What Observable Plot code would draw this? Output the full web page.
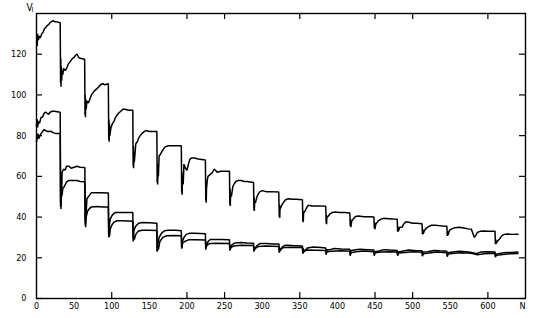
<!DOCTYPE html>
<html><head><meta charset="utf-8">
<script src="https://cdn.jsdelivr.net/npm/d3@7"></script>
<script src="https://cdn.jsdelivr.net/npm/@observablehq/plot@0.6"></script>
<style>body{margin:0;background:#fff} svg{display:block}</style>
</head><body><div id="chart"></div>
<script>
const xTicks = [0,50,100,150,200,250,300,350,400,450,500,550,600];
const xTickMarks = [100,200,250,350,450,500,600];
const yTicks = [0,20,40,60,80,100,120];

const topSeries = [
[0,126],[1,124],[1.5,130],[2.5,127],[4,129],[5,128],[7,130],[9,131],[10.5,132.5],[12,133],[14,134],[16,134.5],[18,135.5],[20,136],[22,136.5],[24,136],[26,136],[31.5,135.5],
[32,106],[32.3,118],[32.6,104],[33,114],[33.4,107],[34,112],[35,110],[36,113],[38,112],[40,113],[42,115],[44,116],[46,117],[48,118],[50,118.5],[52,119.5],[54,120],[56,118.5],[58,118],[64,117.5],
[64.5,90],[64.8,100],[65.1,89],[65.5,98],[66,93],[67,97],[69,96],[71,98],[73,100],[75,101],[77,102],[80,103],[83,104],[85,105],[88,105.5],[91,105],[95.5,105.5],
[96,78],[96.3,88],[96.6,77],[97,86],[97.5,80],[99,84],[101,86],[103,87],[105,89],[107,90],[109,91],[112,92],[115,93],[118,93],[122,92.5],[128,92.5],
[128.5,65],[128.8,75],[129.1,64],[129.5,72],[130,67],[132,76],[134,77],[136,79],[138,80],[140,81],[143,82],[146,82.5],[150,82],[160,82],
[160.4,57],[160.7,66],[161,56],[161.5,64],[162,60],[163,70],[165,71],[168,73],[171,74.5],[175,75],[180,75],[192.5,75],
[193,52],[193.3,62],[193.6,51],[194,60],[195,56],[196,66],[198,64],[200,63],[202,66],[204,68.5],[206,69],[210,69],[215,68.5],[224.5,68],
[225,48],[225.3,56],[225.6,47],[226,54],[227,58],[228,60],[231,61],[234,62],[236,63.5],[238,63],[240,62],[245,62.5],[256.5,62.5],
[257,46],[257.3,54],[257.6,45.5],[258,52],[259,50],[261,55],[263,56.5],[265,57.5],[268,58],[272,58],[276,57.5],[280,57.5],[288.5,57],
[289,43.5],[289.3,50],[289.6,43],[290,48],[291,47],[293,50],[295,51.5],[297,52.5],[300,53],[305,52.5],[310,52.5],[322,52.3],
[322.7,40],[323,46],[323.3,39.5],[323.7,44],[325,45],[327,46.5],[329,47.5],[331,48.5],[335,49],[340,48.8],[345,48.8],[353.5,48.5],
[354,38],[354.3,43],[354.6,37.5],[355,42],[357,43],[359,44.5],[361,45.8],[365,45.5],[370,45.5],[375,45.5],[384.5,45.3],
[385,37],[385.3,41],[385.6,36.5],[386,40],[388,40.5],[390,41.5],[393,42.3],[397,42.5],[403,42.3],[410,42.2],[416.5,42],
[417,35.5],[417.4,39],[417.8,35],[419,38],[421,39],[424,40.3],[428,40.5],[435,40.2],[442,40.2],[448.5,40],
[449,34.5],[449.4,37.5],[449.8,34],[451,36.5],[454,38],[458,39],[462,39.4],[468,39.2],[474,39],[479.5,38.9],
[480,32.8],[480.5,35.5],[481,33],[483,35],[486,35],[488,36.5],[491,37.7],[495,37.5],[500,37],[505,37],[512.5,36.7],
[513,31.5],[513.5,34],[514,31.8],[516,33.5],[518,34.5],[521,35.3],[525,36],[530,36],[535,35.8],[540,35.6],[545.5,35.5],
[546,30.7],[546.5,33],[547,31],[549,33.5],[552,34.2],[556,34.8],[562,35],[568,34.6],[574,34.2],[578,34],[580,32],[582,30],[584,31],[586,32.5],[590,33],[595,33.2],[600,33],[609.5,33],
[610,26.7],[610.5,29],[611,27],[613,28.3],[616,29.5],[619,31],[622,31.5],[626,31.7],[632,31.5],[640,31.6]
];

const midSeries = [
[0,85],[1,88],[1.5,84],[2.5,87],[4,86],[6,89],[8,89],[10,91],[12,91.5],[14,91],[16,90.5],[18,91.5],[21,92],[24,92],[31.5,91.5],
[32,47],[32.3,60],[32.6,46],[33,58],[33.5,52],[34,62],[36,63.5],[38,63],[40,65],[43,65],[46,64],[50,64.5],[54,65],[58,64.5],[64.3,64.3],
[64.7,38],[65,46],[65.3,37],[65.7,45],[66,42],[67,49],[69,50],[71,51],[73,52],[78,52],[85,52],[95.5,51.8],
[96,31],[96.3,37],[96.6,30.5],[97,36],[98,39],[100,40.5],[102,41.5],[105,42.3],[110,42.3],[120,42.3],[128,42.2],
[128.5,29.5],[128.8,34],[129.1,29],[129.5,33],[131,35],[133,36],[136,37],[140,37.3],[150,37.2],[160,37],
[160.4,23.6],[160.7,28],[161,23.5],[161.5,27],[163,30],[166,32],[170,33.3],[175,33.5],[185,33.5],[192.5,33.3],
[193,25],[193.3,29],[193.6,25],[194,28],[196,30],[199,31.5],[203,32],[210,32],[218,31.9],[224.5,31.8],
[225,25],[225.3,27.5],[226,25.5],[228,28],[231,29],[236,29],[245,29],[256.5,28.9],
[257,24],[257.5,26],[258,24.5],[260,26.5],[264,27.3],[272,27.5],[280,27.3],[288.5,27.2],
[289,23.5],[289.5,25.5],[290,24],[293,26],[297,27],[305,27],[315,26.8],[322.3,26.8],
[322.7,23],[323.2,25],[324,23.5],[327,25.5],[331,26.2],[340,26],[353.5,25.8],
[354,22.5],[354.5,24.5],[356,23],[360,24.8],[368,25.3],[378,25],[384.5,24.8],
[385,22],[386,24],[390,24],[396,24.6],[405,24.3],[416.5,24.2],
[417,21.5],[418,23.5],[422,23.8],[430,24.2],[440,24],[448.5,23.8],
[449,21.5],[450,23],[455,23.3],[462,24],[470,23.8],[479.5,23.6],
[480,21.5],[481,23],[486,23.2],[495,23.8],[505,23.5],[512.5,23.4],
[513,21.3],[514,22.8],[520,23],[528,23.6],[536,23.4],[545.5,23.2],
[546,21],[547,22.5],[553,22.8],[562,23.2],[572,23],[580,22.5],[585,22],[590,22.8],[600,23],[609.5,22.8],
[610,20.8],[611,21.8],[617,22.2],[625,22.6],[632,22.6],[640,22.8]
];

const lowSeries = [
[0,77],[1,79],[2,81],[3,78.5],[4.5,80],[6,81],[8,82],[10,83],[12,82.5],[15,82],[19,82.2],[22,81.5],[26,81],[31.5,81],
[32,45],[32.3,52],[32.6,44],[33,50],[34,51],[35,54],[37,55],[40,57.3],[43,58],[47,58],[54,58],[58,57.5],[64.3,57.3],
[64.7,36],[65,41],[65.3,35],[66,40],[68,43],[70,44],[73,45],[80,45.2],[88,45],[95.5,45],
[96,30],[96.3,33],[97,30.5],[98,34],[100,36],[103,37.5],[107,38.2],[115,38.2],[128,38],
[128.5,28],[129,31],[130,29],[132,31.5],[135,33],[140,33.5],[150,33.5],[160,33.4],
[160.4,23],[161,26],[162,24],[164,28],[168,30],[173,30.8],[182,31],[192.5,30.8],
[193,24.5],[194,27],[197,28],[202,28.8],[212,28.8],[224.5,28.7],
[225,24],[226,26],[230,27],[240,27.1],[256.5,27],
[257,23.5],[258,25],[262,25.8],[272,26.1],[288.5,26],
[289,23],[290,24.5],[295,25.5],[305,25.8],[322.3,25.6],
[322.7,22.5],[324,24],[328,25],[340,25.2],[353.5,25],
[354,22],[355,23.5],[360,23.8],[372,23.7],[384.5,23.6],
[385,21.5],[386,23],[392,23.2],[405,23.4],[416.5,23.2],
[417,21],[418,22.5],[425,23],[435,23.3],[448.5,23],
[449,21],[450,22.5],[458,22.8],[470,23],[479.5,22.8],
[480,21],[481,22.3],[490,22.6],[500,23],[512.5,22.7],
[513,20.8],[514,22],[522,22.3],[532,22.8],[545.5,22.5],
[546,20.5],[547,21.8],[555,22.2],[565,22.5],[578,22.2],[586,21.5],[595,22],[609.5,22.2],
[610,20.3],[611,21.3],[620,21.6],[630,22],[640,22.1]
];

const W = 548, H = 318, mL = 36, mR = 23, mT = 13, mB = 20;
const pw = W - mL - mR, ph = H - mT - mB;
const tickLen = 6;
const font = "'Liberation Sans Narrow', 'DejaVu Sans Condensed', 'Liberation Sans', sans-serif";

const chart = Plot.plot({
  width: W, height: H,
  marginLeft: mL, marginRight: mR, marginTop: mT, marginBottom: mB,
  x: {domain: [0, 650]},
  y: {domain: [0, 140]},
  style: {fontFamily: font, fontSize: "9px", color: "#000", background: "#fff"},
  marks: [
    Plot.axisX(xTicks, {tickSize: 0, tickPadding: 4, label: null}),
    Plot.axisY(yTicks, {tickSize: 0, tickPadding: 10, label: null}),
    Plot.tickX(xTickMarks, {x: d => d, insetTop: ph - tickLen, stroke: "#000", strokeWidth: 1.2}),
    Plot.tickX(xTickMarks, {x: d => d, insetBottom: ph - tickLen, stroke: "#000", strokeWidth: 1.2}),
    Plot.tickY(yTicks, {y: d => d, insetRight: pw - tickLen, stroke: "#000", strokeWidth: 1.2}),
    Plot.tickY(yTicks, {y: d => d, insetLeft: pw - tickLen, stroke: "#000", strokeWidth: 1.2}),
    Plot.line(lowSeries, {stroke: "#000", strokeWidth: 1.5, strokeLinejoin: "miter"}),
    Plot.line(midSeries, {stroke: "#000", strokeWidth: 1.5, strokeLinejoin: "miter"}),
    Plot.line(topSeries, {stroke: "#000", strokeWidth: 1.5, strokeLinejoin: "miter"}),
    Plot.frame({stroke: "#000", strokeWidth: 1.4}),
    Plot.text(["V"], {text: d => d, frameAnchor: "top-left", dx: -10, dy: -6, fontSize: 10, lineAnchor: "middle"}),
    Plot.text(["I"], {text: d => d, frameAnchor: "top-left", dx: -5, dy: -4, fontSize: 7, lineAnchor: "middle"}),
    Plot.text(["N"], {text: d => d, frameAnchor: "bottom-right", dx: 0, dy: 8, fontSize: 9, lineAnchor: "middle"})
  ]
});
document.getElementById("chart").appendChild(chart);
</script>
</body></html>
